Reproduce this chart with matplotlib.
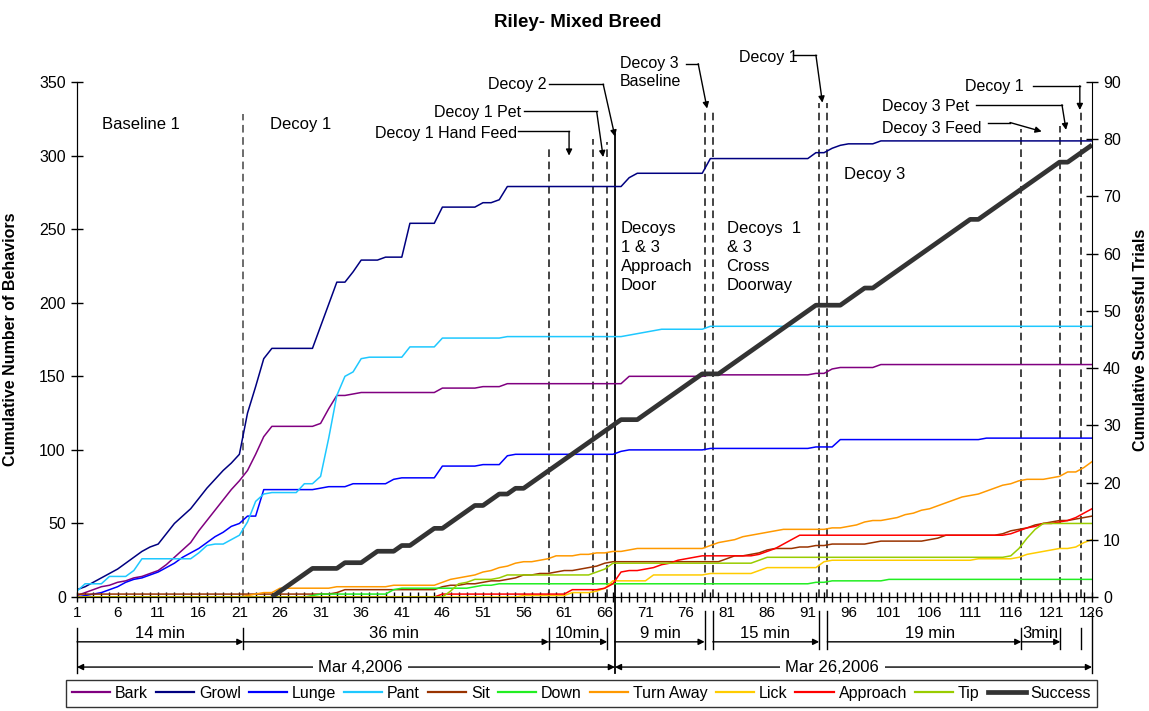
import numpy as np
import matplotlib
matplotlib.use('Agg')
import matplotlib.pyplot as plt
import matplotlib.transforms as mtransforms
from matplotlib.lines import Line2D
from matplotlib.ticker import FixedLocator, MultipleLocator

plt.rcParams.update({'font.family': 'Liberation Sans', 'font.size': 11})

# Trial index 1..126
trials = list(range(1, 127))

bark = [1, 3, 5, 7, 8, 10, 11, 13, 14, 16, 18, 22, 27, 32, 37, 45, 52, 59, 66, 73, 79,
        86, 97, 109, 116, 116, 116, 116, 116, 116, 118, 128, 137, 137, 138, 139, 139, 139, 139, 139, 139, 139,
        139, 139, 139, 142, 142, 142, 142, 142, 143, 143, 143, 145, 145, 145, 145, 145, 145, 145, 145, 145, 145,
        145, 145, 145, 145, 145, 150, 150, 150, 150, 150, 150, 150, 150, 150, 150, 151, 151, 151, 151, 151, 151,
        151, 151, 151, 151, 151, 151, 151, 152, 152, 155, 156, 156, 156, 156, 156, 158, 158, 158, 158, 158, 158,
        158, 158, 158, 158, 158, 158, 158, 158, 158, 158, 158, 158, 158, 158, 158, 158, 158, 158, 158, 158, 158]

growl = [5, 7, 10, 13, 16, 19, 23, 27, 31, 34, 36, 43, 50, 55, 60, 67, 74, 80, 86, 91, 97,
         125, 143, 162, 169, 169, 169, 169, 169, 169, 184, 199, 214, 214, 221, 229, 229, 229, 231, 231, 231, 254,
         254, 254, 254, 265, 265, 265, 265, 265, 268, 268, 270, 279, 279, 279, 279, 279, 279, 279, 279, 279, 279,
         279, 279, 279, 279, 279, 285, 288, 288, 288, 288, 288, 288, 288, 288, 288, 298, 298, 298, 298, 298, 298,
         298, 298, 298, 298, 298, 298, 298, 302, 302, 305, 307, 308, 308, 308, 308, 310, 310, 310, 310, 310, 310,
         310, 310, 310, 310, 310, 310, 310, 310, 310, 310, 310, 310, 310, 310, 310, 310, 310, 310, 310, 310, 310]

lunge = [0, 1, 2, 3, 5, 7, 10, 12, 13, 15, 17, 20, 23, 27, 30, 33, 37, 41, 44, 48, 50,
         55, 55, 73, 73, 73, 73, 73, 73, 73, 74, 75, 75, 75, 77, 77, 77, 77, 77, 80, 81, 81,
         81, 81, 81, 89, 89, 89, 89, 89, 90, 90, 90, 96, 97, 97, 97, 97, 97, 97, 97, 97, 97,
         97, 97, 97, 97, 99, 100, 100, 100, 100, 100, 100, 100, 100, 100, 100, 101, 101, 101, 101, 101, 101,
         101, 101, 101, 101, 101, 101, 101, 102, 102, 102, 107, 107, 107, 107, 107, 107, 107, 107, 107, 107, 107,
         107, 107, 107, 107, 107, 107, 107, 108, 108, 108, 108, 108, 108, 108, 108, 108, 108, 108, 108, 108, 108]

pant = [4, 9, 9, 9, 14, 14, 14, 18, 26, 26, 26, 26, 26, 26, 26, 30, 35, 36, 36, 39, 42,
        51, 65, 70, 71, 71, 71, 71, 77, 77, 82, 108, 137, 150, 153, 162, 163, 163, 163, 163, 163, 170,
        170, 170, 170, 176, 176, 176, 176, 176, 176, 176, 176, 177, 177, 177, 177, 177, 177, 177, 177, 177, 177,
        177, 177, 177, 177, 177, 178, 179, 180, 181, 182, 182, 182, 182, 182, 182, 184, 184, 184, 184, 184, 184,
        184, 184, 184, 184, 184, 184, 184, 184, 184, 184, 184, 184, 184, 184, 184, 184, 184, 184, 184, 184, 184,
        184, 184, 184, 184, 184, 184, 184, 184, 184, 184, 184, 184, 184, 184, 184, 184, 184, 184, 184, 184, 184]

sit = [2, 2, 2, 2, 2, 2, 2, 2, 2, 2, 2, 2, 2, 2, 2, 2, 2, 2, 2, 2, 2,
       2, 2, 2, 2, 2, 2, 2, 2, 2, 2, 2, 3, 5, 5, 5, 5, 5, 5, 5, 5, 5,
       5, 5, 5, 7, 8, 8, 9, 9, 10, 11, 11, 12, 13, 15, 15, 16, 16, 17, 18, 18, 19,
       20, 21, 23, 24, 24, 24, 24, 24, 24, 24,
       24, 24, 24, 24, 24, 24, 24, 26, 28, 28, 29,
       30, 32, 33, 33, 33, 34, 34, 35, 35, 36, 36, 36, 36, 36, 37, 38, 38, 38, 38, 38, 38,
       39, 40, 42, 42, 42, 42, 42, 42, 42, 43, 45, 46, 47, 49, 50, 51, 52, 52, 53, 54, 55]

down = [0, 0, 0, 0, 0, 0, 0, 0, 0, 0, 0, 0, 0, 0, 0, 0, 0, 0, 0, 0, 0,
        0, 0, 0, 0, 0, 0, 0, 0, 1, 2, 2, 2, 2, 2, 2, 2, 2, 2, 5, 6, 6,
        6, 6, 6, 6, 6, 6, 6, 7, 8, 8, 9, 9, 9, 9, 9, 9, 9, 9, 9, 9, 9,
        9, 9, 9, 9, 9, 9, 9, 9, 9, 9, 9, 9, 9, 9, 9, 9, 9, 9, 9, 9, 9,
        9, 9, 9, 9, 9, 9, 9, 10, 10, 11, 11, 11, 11, 11, 11, 11, 12, 12, 12, 12, 12,
        12, 12, 12, 12, 12, 12, 12, 12, 12, 12, 12, 12, 12, 12, 12, 12, 12, 12, 12, 12, 12]

turn_away = [0, 0, 0, 0, 0, 0, 0, 0, 0, 0, 0, 0, 0, 0, 0, 0, 0, 0, 0, 0, 0,
             1, 2, 3, 3, 6, 6, 6, 6, 6, 6, 6, 7, 7, 7, 7, 7, 7, 7, 8, 8, 8,
             8, 8, 8, 10, 12, 13, 14, 15, 17, 18, 20, 21, 23, 24, 24, 25, 26, 28, 28, 28, 29,
             29, 30, 30, 31, 31, 32, 33, 33, 33, 33, 33, 33, 33, 33, 33, 35, 37, 38, 39, 41, 42,
             43, 44, 45, 46, 46, 46, 46, 46, 46, 47, 47, 48, 49, 51, 52, 52, 53, 54, 56, 57, 59,
             60, 62, 64, 66, 68, 69, 70, 72, 74, 76, 77, 79, 80, 80, 80, 81, 82, 85, 85, 88, 92]

lick = [0, 0, 0, 0, 0, 0, 0, 0, 0, 0, 0, 0, 0, 0, 0, 0, 0, 0, 0, 0, 0,
        0, 0, 0, 0, 0, 0, 0, 0, 0, 0, 0, 0, 0, 0, 0, 0, 0, 0, 0, 0, 0,
        0, 0, 0, 0, 0, 0, 0, 0, 0, 0, 0, 0, 0,
        1, 1, 1, 1, 1, 1, 3, 3,
        3, 4, 6, 11, 11, 11, 11, 11, 15, 15, 15, 15, 15, 15, 15, 16, 16, 16, 16, 16, 16,
        18, 20, 20, 20, 20, 20, 20, 20, 24, 25, 25, 25, 25, 25, 25, 25, 25, 25, 25, 25, 25,
        25, 25, 25, 25, 25, 25, 26, 26, 26, 26, 26, 27, 29, 30, 31, 32, 33, 33, 34, 37, 39]

approach = [0, 0, 0, 0, 0, 0, 0, 0, 0, 0, 0, 0, 0, 0, 0, 0, 0, 0, 0, 0, 0,
            0, 0, 0, 0, 0, 0, 0, 0, 0, 0, 0, 0, 0, 0, 0, 0, 0, 0, 0, 0, 0,
            0, 0, 0, 2, 2, 2, 2, 2, 2, 2, 2, 2, 2, 2, 2, 2, 2, 2, 2, 5, 5,
            5, 5, 6, 9, 17, 18, 18, 19, 20, 22, 23, 25, 26, 27, 28, 28, 28, 28, 28, 28, 28,
            29, 31, 33, 36, 39, 42, 42, 42, 42, 42, 42, 42, 42, 42, 42, 42, 42, 42, 42, 42, 42,
            42, 42, 42, 42, 42, 42, 42, 42, 42, 42, 43, 45, 47, 48, 50, 50, 51, 52, 54, 57, 60]

tip = [0, 0, 0, 0, 0, 0, 0, 0, 0, 0, 0, 0, 0, 0, 0, 0, 0, 0, 0, 0, 0,
       0, 0, 0, 0, 0, 0, 0, 0, 0, 0, 0, 0, 0, 0, 0, 0, 0, 0, 0, 0, 0,
       0, 0, 0, 0, 4, 9, 10, 12, 12, 12, 13, 15, 15, 15, 15, 15, 15, 15, 15, 15, 15,
       15, 17, 19, 23, 23, 23, 23, 23, 23, 23, 23, 23, 23, 23, 23, 23, 23, 23, 23, 23, 23,
       25, 27, 27, 27, 27, 27, 27, 27, 27, 27, 27, 27, 27, 27, 27, 27, 27, 27, 27, 27, 27,
       27, 27, 27, 27, 27, 27, 27, 27, 27, 27, 28, 33, 40, 46, 50, 50, 50, 50, 50, 50, 50]

# cumulative successful trials (right axis); no value before trial 25
success = [None] * 24 + [0, 1, 2, 3, 4, 5, 5, 5, 5, 6, 6, 6, 7, 8, 8, 8, 9, 9,
           10, 11, 12, 12, 13, 14, 15, 16, 16, 17, 18, 18, 19, 19, 20, 21, 22, 23, 24, 25, 26,
           27, 28, 29, 30, 31, 31, 31, 32, 33, 34, 35, 36, 37, 38, 39, 39, 39, 40, 41, 42, 43,
           44, 45, 46, 47, 48, 49, 50, 51, 51, 51, 51, 52, 53, 54, 54, 55, 56, 57, 58, 59, 60,
           61, 62, 63, 64, 65, 66, 66, 67, 68, 69, 70, 71, 72, 73, 74, 75, 76, 76, 77, 78, 79]

behaviours = [
    ('Bark', bark, '#800080'),
    ('Growl', growl, '#000080'),
    ('Lunge', lunge, '#0000FF'),
    ('Pant', pant, '#1EC8FF'),
    ('Sit', sit, '#993300'),
    ('Down', down, '#22EE22'),
    ('Turn Away', turn_away, '#FF9900'),
    ('Lick', lick, '#FFCC00'),
    ('Approach', approach, '#FF0000'),
    ('Tip', tip, '#99CC00'),
]
success_color = '#333333'

fig = plt.figure(figsize=(11.49, 7.11), dpi=100)
ax = fig.add_axes([0.0670, 0.1603, 0.8834, 0.7243])
ax2 = ax.twinx()

for name, vals, col in behaviours:
    ax.plot(trials, vals, color=col, lw=1.1, zorder=3)
succ = np.array([np.nan if v is None else v for v in success], dtype=float)
ax2.plot(trials, succ, color=success_color, lw=3.4, solid_capstyle='butt', zorder=4)

ax.set_xlim(1, 126)
ax.set_ylim(0, 350)
ax2.set_ylim(0, 90)
ax.xaxis.set_major_locator(FixedLocator(list(range(1, 127, 5))))
ax.xaxis.set_minor_locator(MultipleLocator(1))
ax.set_yticks(range(0, 351, 50))
ax2.set_yticks(range(0, 91, 10))
ax.tick_params(axis='x', which='both', direction='inout', length=7, width=1, labelsize=11, pad=3)
ax.tick_params(axis='y', direction='inout', length=8, width=1, labelsize=11.5, pad=4)
ax2.tick_params(axis='y', direction='inout', length=8, width=1, labelsize=11.5, pad=4)
for a in (ax, ax2):
    a.spines['top'].set_visible(False)
ax.spines['right'].set_visible(False)

ax.set_ylabel('Cumulative Number of Behaviors', fontsize=11.5, fontweight='bold')
ax.yaxis.set_label_coords(-0.058, 0.5)
ax2.set_ylabel('Cumulative Successful Trials', fontsize=11.5, fontweight='bold')
ax2.yaxis.set_label_coords(1.040, 0.5)

fig.text(0.503, 0.968, 'Riley- Mixed Breed', ha='center', va='center', fontsize=13.5, fontweight='bold')

# phase dividers: (trial position, top value)
dash = (0, (5, 3))
dividers = [(21.5, 328), (59.1, 307), (64.6, 311), (66.3, 309), (78.3, 330), (79.3, 330),
            (92.4, 336), (93.4, 336), (117.3, 318), (122.1, 320), (124.6, 331)]
for xv, top in dividers:
    c = '#444444' if xv == 21.5 else '#111111'
    ax.plot([xv, xv], [0, top], ls=dash, color=c, lw=1.1, zorder=2)
ax.plot([67.25, 67.25], [0, 315], color='black', lw=1.3, zorder=2)

# region labels
ax.text(4.1, 321, 'Baseline 1', fontsize=12, va='center')
ax.text(24.8, 321, 'Decoy 1', fontsize=12, va='center')
ax.text(68.0, 231, 'Decoys\n1 & 3\nApproach\nDoor', fontsize=12, va='center', linespacing=1.35)
ax.text(81.0, 231, 'Decoys  1\n& 3\nCross\nDoorway', fontsize=12, va='center', linespacing=1.35)
ax.text(95.5, 287, 'Decoy 3', fontsize=12, va='center')

# callouts: label, text anchor, ha, elbow start, elbow end, arrow tip
callouts = [
    ('Decoy 2', (58.8, 348), 'right', (59.1, 348.6), (65.8, 348.6), (67.25, 313)),
    ('Decoy 1 Pet', (55.7, 329), 'right', (56.0, 330), (65.0, 330), (65.8, 299)),
    ('Decoy 1 Hand Feed', (55.2, 315), 'right', (55.3, 316.5), (61.6, 316.5), (61.6, 300)),
    ('Decoy 3\nBaseline', (67.9, 356.5), 'left', (76.0, 362.5), (77.5, 362.5), (78.6, 332)),
    ('Decoy 1', (82.5, 367), 'left', (89.2, 368.3), (92.0, 368.3), (92.8, 336)),
    ('Decoy 1', (110.4, 347), 'left', (118.7, 347.5), (124.5, 347.5), (124.5, 331)),
    ('Decoy 3 Pet', (100.1, 333.7), 'left', (111.7, 334.6), (122.3, 334.6), (122.8, 317.5)),
    ('Decoy 3 Feed', (100.1, 318.7), 'left', (113.2, 322.5), (115.9, 322.5), (119.8, 316.4)),
]
for label, pos, ha, p0, p1, tipxy in callouts:
    ax.text(pos[0], pos[1], label, ha=ha, va='center', fontsize=11.5, linespacing=1.3, clip_on=False)
    ax.plot([p0[0], p1[0]], [p0[1], p1[1]], color='black', lw=1, clip_on=False)
    ax.annotate('', xy=tipxy, xytext=p1,
                arrowprops=dict(arrowstyle='-|>', color='black', lw=1, mutation_scale=9,
                                shrinkA=0, shrinkB=0), annotation_clip=False)

# duration and date brackets below the axis
trans = mtransforms.blended_transform_factory(ax.transData, ax.transAxes)
y_txt, y_arr, y_t0, y_t1, y_date = -0.070, -0.087, -0.060, -0.101, -0.136
ticks_short = [21.5, 59.1, 66.3, 117.3, 122.1, 124.6]
for xv in ticks_short:
    ax.plot([xv, xv], [y_t0, y_t1], color='black', lw=1, transform=trans, clip_on=False)
for xv in [78.3, 79.3, 92.4, 93.4]:
    ax.plot([xv, xv], [-0.028, y_t1], color='black', lw=1, transform=trans, clip_on=False)
ax.plot([1, 1], [y_t0, -0.147], color='black', lw=1, transform=trans, clip_on=False)
ax.plot([67.25, 67.25], [0, -0.148], color='black', lw=1.3, transform=trans, clip_on=False)
ax.plot([126, 126], [-0.031, -0.147], color='black', lw=1, transform=trans, clip_on=False)

durations = [('14 min', 1, 21.5, 11.2), ('36 min', 21.5, 59.1, 40.0), ('10min', 59.1, 66.3, 62.6),
             ('9 min', 67.25, 78.3, 72.8), ('15 min', 79.3, 92.4, 85.7), ('19 min', 93.4, 117.3, 106.0),
             ('3min', 117.3, 122.1, 119.7)]
for label, x0, x1, xc in durations:
    ax.annotate('', xy=(x1, y_arr), xytext=(x0, y_arr), xycoords=trans, textcoords=trans,
                arrowprops=dict(arrowstyle='-|>', color='black', lw=1, mutation_scale=9,
                                shrinkA=0, shrinkB=0), annotation_clip=False)
    ax.text(xc, y_txt, label, transform=trans, ha='center', va='center', fontsize=12)

dates = [('Mar 4,2006', 1, 67.25, 35.9), ('Mar 26,2006', 67.25, 126, 94.0)]
for label, x0, x1, xc in dates:
    ax.annotate('', xy=(x1, y_date), xytext=(x0, y_date), xycoords=trans, textcoords=trans,
                arrowprops=dict(arrowstyle='<|-|>', color='black', lw=1, mutation_scale=9,
                                shrinkA=0, shrinkB=0), annotation_clip=False)
    ax.text(xc, y_date, label, transform=trans, ha='center', va='center', fontsize=12, zorder=5,
            bbox=dict(facecolor='white', edgecolor='none', pad=4))

handles = [Line2D([0], [0], color=c, lw=1.6) for _, _, c in behaviours]
handles.append(Line2D([0], [0], color=success_color, lw=3.4))
labels = [n for n, _, _ in behaviours] + ['Success']
leg = fig.legend(handles, labels, loc='center', bbox_to_anchor=(0.506, 0.0245), ncol=11,
                 frameon=True, fancybox=False, edgecolor='black', fontsize=11.5,
                 handlelength=2.4, handletextpad=0.3, columnspacing=0.5, borderpad=0.35,
                 borderaxespad=0)
leg.get_frame().set_linewidth(1.0)

fig.savefig('out.png', dpi=100)
